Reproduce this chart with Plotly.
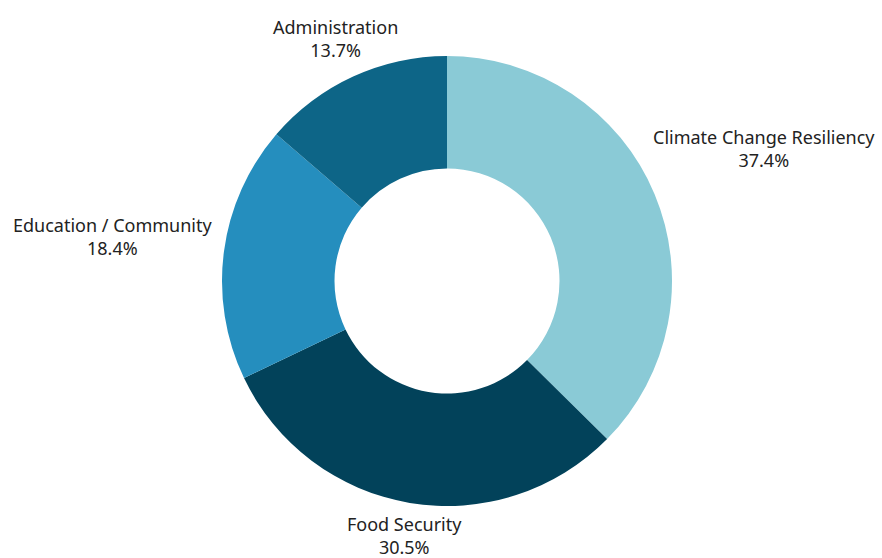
import math
import plotly.graph_objects as go

categories = ["Climate Change Resiliency", "Food Security", "Education / Community", "Administration"]
values = [37.4, 30.5, 18.4, 13.7]
colors = ["#8ACAD6", "#02425A", "#258EBE", "#0D6587"]

W, H = 882, 558
cx, cy, r = 447, 281, 225
# distance (px) from centre to each label block, along the slice mid-angle
label_dist = [344, 258, 337, 267]

fig = go.Figure(go.Pie(
    labels=categories,
    values=values,
    hole=0.5,
    sort=False,
    direction="clockwise",
    rotation=0,
    marker=dict(colors=colors, line=dict(width=0)),
    textinfo="none",
    showlegend=False,
    hoverinfo="label+percent",
    domain=dict(x=[(cx - r) / W, (cx + r) / W], y=[(H - cy - r) / H, (H - cy + r) / H]),
))

total = sum(values)
cum = 0.0
annotations = []
for cat, v, d in zip(categories, values, label_dist):
    mid = (cum + v / 2) / total * 2 * math.pi
    cum += v
    px = cx + d * math.sin(mid)
    py = cy - d * math.cos(mid)
    annotations.append(dict(
        x=px / W, y=1 - py / H, xref="paper", yref="paper",
        text=f"{cat}<br>{v / total * 100:.1f}%",
        showarrow=False, xanchor="center", yanchor="middle",
        align="center",
        font=dict(family="Noto Sans", size=18, color="#222222"),
    ))

fig.update_layout(
    width=W, height=H,
    margin=dict(l=0, r=0, t=0, b=0),
    paper_bgcolor="white",
    plot_bgcolor="white",
    annotations=annotations,
)

fig.write_html(
    "out.html",
    config={"displayModeBar": False},
    post_script="document.body.style.margin='0';document.body.style.overflow='hidden';",
)
